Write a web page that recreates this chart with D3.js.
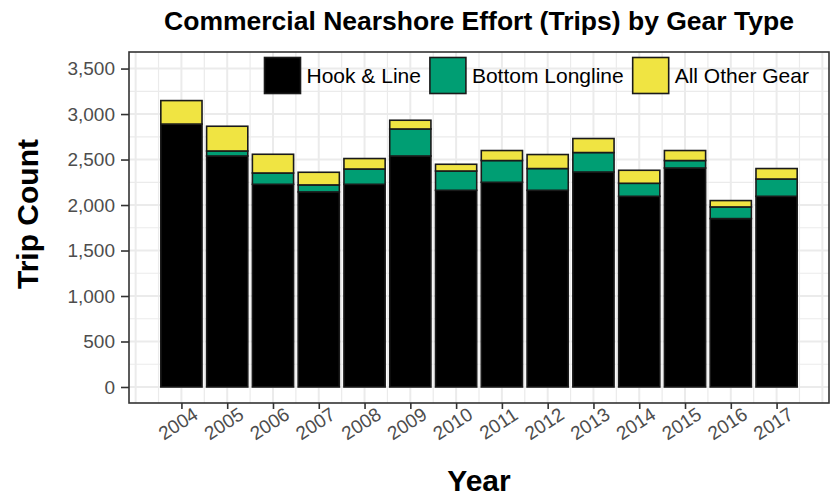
<!DOCTYPE html>
<html>
<head>
<meta charset="utf-8">
<script src="https://cdn.jsdelivr.net/npm/d3@7"></script>
<style>
  html, body { margin: 0; padding: 0; background: #fff; }
  svg { display: block; font-family: "Liberation Sans", Arial, sans-serif; }
</style>
</head>
<body>
<svg id="chart" width="833" height="499"></svg>
<script>
// ---- data ----
const years = [2004, 2005, 2006, 2007, 2008, 2009, 2010, 2011, 2012, 2013, 2014, 2015, 2016, 2017];
const hookLine = [2890, 2539, 2228, 2144, 2228, 2539, 2162, 2250, 2162, 2363, 2096, 2407, 1851, 2096];
const bottomLongline = [0, 55, 124, 77, 168, 297, 212, 239, 239, 214, 143, 82, 128, 190];
const otherGear = [258, 272, 206, 139, 115, 96, 74, 110, 154, 154, 143, 110, 70, 115];
const seriesNames = ["Hook & Line", "Bottom Longline", "All Other Gear"];
const seriesColors = ["#000000", "#009E73", "#F0E442"];
const yTicks = [0, 500, 1000, 1500, 2000, 2500, 3000, 3500];
const titleText = "Commercial Nearshore Effort (Trips) by Gear Type";
const xTitle = "Year";
const yTitle = "Trip Count";

// ---- layout ----
const svg = d3.select("#chart");
const panel = { left: 129, right: 829, top: 52, bottom: 403 };

const x = d3.scaleLinear().domain([2002.855, 2018.145]).range([panel.left, panel.right]);
const y = d3.scaleLinear().domain([-176, 3682]).range([panel.bottom, panel.top]);

// panel background
svg.append("rect").attr("x", panel.left).attr("y", panel.top)
  .attr("width", panel.right - panel.left).attr("height", panel.bottom - panel.top)
  .attr("fill", "#fff");

const grid = svg.append("g");
const yMinor = d3.range(-250, 3750, 250).filter(v => y(v) > panel.top && y(v) < panel.bottom && v % 500 !== 0);
const xMinor = d3.range(2002.5, 2018.5, 0.5).filter(v => x(v) > panel.left && x(v) < panel.right && v % 1 !== 0);
const xMajor = d3.range(2003, 2019, 1).filter(v => x(v) > panel.left && x(v) < panel.right);
grid.selectAll(".ymin").data(yMinor).join("line")
  .attr("x1", panel.left).attr("x2", panel.right).attr("y1", d => y(d)).attr("y2", d => y(d))
  .attr("stroke", "#EBEBEB").attr("stroke-width", 1.2);
grid.selectAll(".xmin").data(xMinor).join("line")
  .attr("y1", panel.top).attr("y2", panel.bottom).attr("x1", d => x(d)).attr("x2", d => x(d))
  .attr("stroke", "#EBEBEB").attr("stroke-width", 1.2);
grid.selectAll(".ymaj").data(yTicks).join("line")
  .attr("x1", panel.left).attr("x2", panel.right).attr("y1", d => y(d)).attr("y2", d => y(d))
  .attr("stroke", "#EBEBEB").attr("stroke-width", 2);
grid.selectAll(".xmaj").data(xMajor).join("line")
  .attr("y1", panel.top).attr("y2", panel.bottom).attr("x1", d => x(d)).attr("x2", d => x(d))
  .attr("stroke", "#EBEBEB").attr("stroke-width", 2);

// stacked data
const rows = years.map((yr, i) => ({ year: yr, hl: hookLine[i], bl: bottomLongline[i], og: otherGear[i] }));
const stack = d3.stack().keys(["hl", "bl", "og"])(rows);
const barW = x(2004.45) - x(2003.55);

const bars = svg.append("g");
stack.forEach((layer, li) => {
  bars.selectAll(null).data(layer.filter(d => d[1] - d[0] > 0)).join("rect")
    .attr("x", d => x(d.data.year) - barW / 2)
    .attr("width", barW)
    .attr("y", d => y(d[1]))
    .attr("height", d => y(d[0]) - y(d[1]))
    .attr("fill", seriesColors[li])
    .attr("stroke", "#1a1a1a")
    .attr("stroke-width", 1.6);
});

// panel border
svg.append("rect").attr("x", panel.left).attr("y", panel.top)
  .attr("width", panel.right - panel.left).attr("height", panel.bottom - panel.top)
  .attr("fill", "none").attr("stroke", "#333333").attr("stroke-width", 1.6);

// y axis
const yAxis = svg.append("g").attr("transform", `translate(${panel.left},0)`)
  .call(d3.axisLeft(y).tickValues(yTicks).tickFormat(d3.format(",")).tickSize(8).tickPadding(6));
yAxis.select(".domain").remove();
yAxis.selectAll(".tick line").attr("stroke", "#333").attr("stroke-width", 1.6);
yAxis.selectAll(".tick text").attr("fill", "#4D4D4D").style("font-size", "19px")
  .style("font-family", "'Liberation Sans', Arial, sans-serif");

// x axis
const xAxis = svg.append("g").attr("transform", `translate(0,${panel.bottom})`)
  .call(d3.axisBottom(x).tickValues(years).tickFormat(d3.format("d")).tickSize(6).tickPadding(4));
xAxis.select(".domain").remove();
xAxis.selectAll(".tick line").attr("stroke", "#333").attr("stroke-width", 1.6);
xAxis.selectAll(".tick text").attr("fill", "#4D4D4D").style("font-size", "19px")
  .style("font-family", "'Liberation Sans', Arial, sans-serif")
  .attr("text-anchor", "middle").attr("dy", null).attr("y", 0)
  .attr("transform", "translate(-3,22) rotate(-33)")
  .attr("dominant-baseline", "middle");

// title
svg.append("text").attr("x", (panel.left + panel.right) / 2).attr("y", 30)
  .attr("text-anchor", "middle").style("font-weight", "bold").style("font-size", "26.5px")
  .attr("fill", "#000").text(titleText);

// axis titles
svg.append("text").attr("x", (panel.left + panel.right) / 2).attr("y", 491)
  .attr("text-anchor", "middle").style("font-weight", "bold").style("font-size", "30px")
  .attr("fill", "#000").text(xTitle);
svg.append("text").attr("transform", `translate(38,214) rotate(-90)`)
  .attr("text-anchor", "middle").style("font-weight", "bold").style("font-size", "30px")
  .attr("fill", "#000").text(yTitle);

// legend
const legend = svg.append("g");
let lx = 264.5;
const keyS = 36, ky = 57.5;
seriesNames.forEach((name, i) => {
  legend.append("rect").attr("x", lx).attr("y", ky).attr("width", keyS).attr("height", keyS)
    .attr("fill", seriesColors[i]).attr("stroke", "#1a1a1a").attr("stroke-width", 1.6);
  const t = legend.append("text").attr("x", lx + keyS + 6).attr("y", ky + keyS / 2)
    .attr("dominant-baseline", "central").style("font-size", "21px").attr("fill", "#000").text(name);
  lx += keyS + 6 + t.node().getComputedTextLength() + 9;
});
</script>
</body>
</html>
